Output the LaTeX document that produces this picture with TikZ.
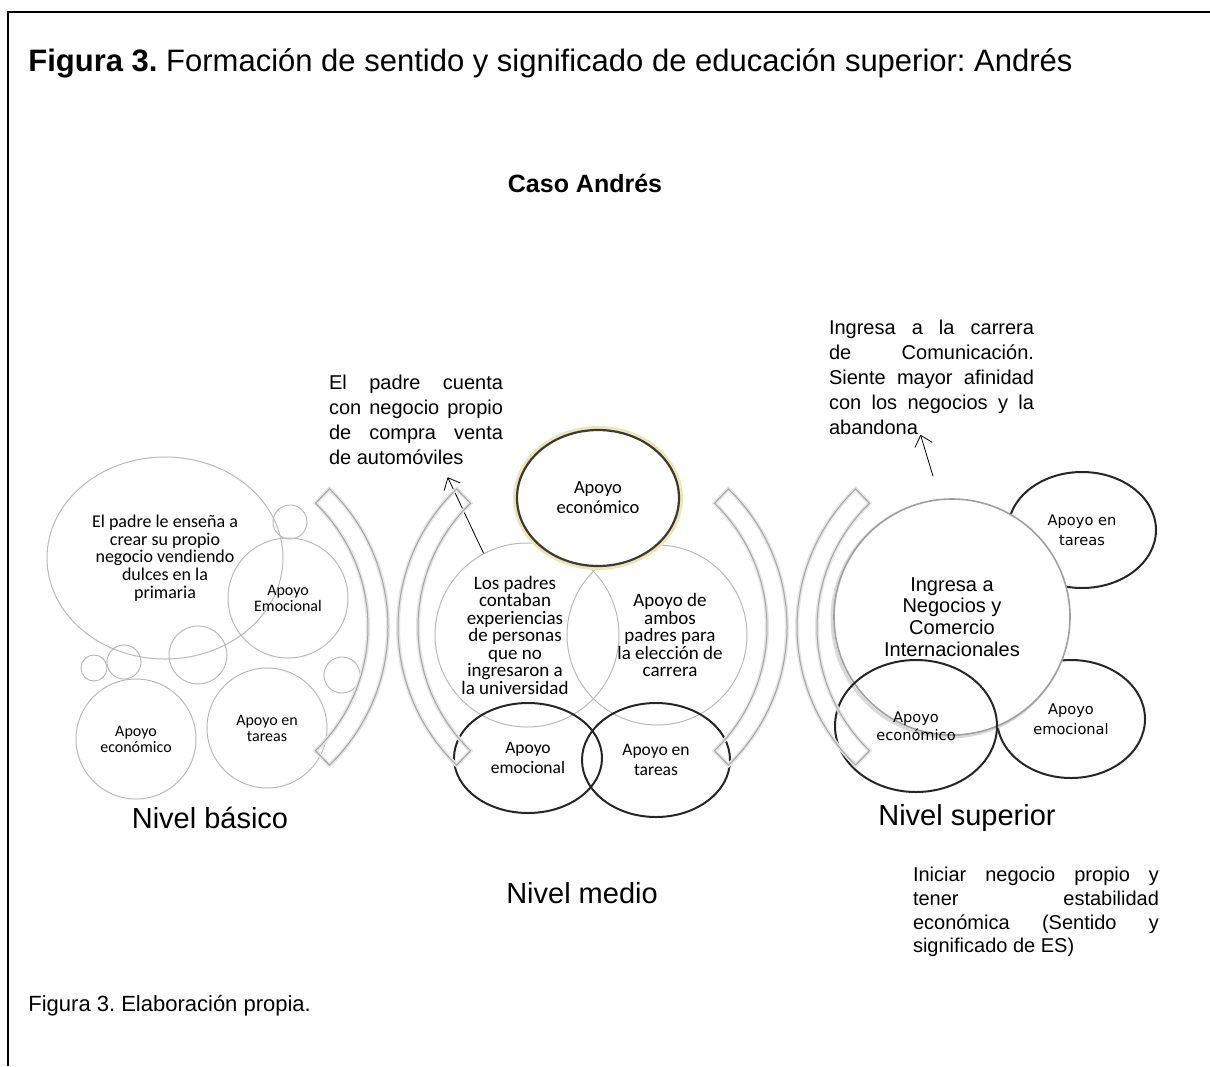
\documentclass[tikz,border=0pt]{standalone}
\usepackage{fontspec}
\setmainfont{Liberation Sans}
\newfontfamily\calib{Carlito}
\newfontfamily\verd{DejaVu Sans}
\usetikzlibrary{shapes.geometric,arrows.meta}
\frenchspacing

\begin{document}
\begin{tikzpicture}[x=0.5pt,y=-0.5pt,every node/.style={inner sep=0pt},
    ring/.style={draw=gray!55,line width=0.5pt},
    oval/.style={draw=black!85,ellipse,line width=1pt},
    glow/.style={draw=black!75!olive,ellipse,fill=white,line width=1.1pt,
      preaction={draw=olive!20,line width=4pt}},
    band/.style={draw=gray!70,line width=0.5pt,preaction={draw=gray!20,line width=2pt}},
    cal/.style 2 args={font=\calib\fontsize{#1}{#2}\selectfont,align=center},
    verd/.style={font=\verd\fontsize{7.3}{10}\selectfont,align=center},
    callout/.style={font=\fontsize{10}{12.5}\selectfont,align=left},
    nivel/.style={font=\fontsize{14.5}{17}\selectfont},
    tip/.style={-{Straight Barb[length=5pt,width=9pt]}}]
  \useasboundingbox (0,0) rectangle (1210,1066);
  \draw[line width=1pt] (8,1066) -- (8,12) -- (1210,12);

  \node[anchor=west,font=\fontsize{15.5}{18}\selectfont] (titulo) at (28,63)
    {\textbf{Figura 3.} Formación de sentido y significado de educación superior: Andrés};
  \node[font=\bfseries\fontsize{12.5}{15}\selectfont] (caso) at (585,183) {Caso Andrés};

  % nivel basico
  \node[ring,ellipse,minimum width=118pt,minimum height=101pt,cal={9}{8.85}] (ensena) at (165,558)
    {El padre le enseña a\\crear su propio\\negocio vendiendo\\dulces en la\\primaria};
  \foreach \nm/\cx/\cy/\d in {s1/290/522/17, s2/198/655/29, s3/94/668/13, s4/124/662/17, s5/342/675/18}
    \node[ring,circle,minimum size=\d pt] (\nm) at (\cx,\cy) {};
  \node[ring,circle,minimum size=60pt,cal={8}{8}] (emoB) at (288,598) {Apoyo\\Emocional};
  \node[ring,circle,minimum size=60pt,cal={8}{8}] (ecoB) at (136,739) {Apoyo\\económico};
  \node[ring,circle,minimum size=60pt,cal={8}{8}] (tarB) at (267,728) {Apoyo en\\tareas};

  % nivel medio
  \node[ring,circle,minimum size=92pt] (padres) at (527,635) {};
  \node[ring,circle,minimum size=90pt] (ambos) at (657,635) {};
  \node[cal={9.5}{8.75}] (padresTxt) at (515,635)
    {Los padres\\contaban\\experiencias\\de personas\\que no\\ingresaron a\\la universidad};
  \node[cal={9.5}{8.75}] (ambosTxt) at (670,635)
    {Apoyo de\\ambos\\padres para\\la elección de\\carrera};
  \node[glow,minimum width=81pt,minimum height=68pt,cal={9.25}{10}] (ecoM) at (598,498) {Apoyo\\económico};
  \node[oval,minimum width=74pt,minimum height=55pt,cal={8.75}{10}] (emoM) at (528,758) {Apoyo\\emocional};
  \node[oval,minimum width=74pt,minimum height=57pt,cal={8.75}{10}] (tarM) at (656,760) {Apoyo en\\tareas};
  \node[callout] (cuentaTxt) at (416,420)
    {\makebox[87pt][s]{El padre cuenta}\\
     \makebox[87pt][s]{con negocio propio}\\
     \makebox[87pt][s]{de compra venta}\\
     de automóviles};
  \draw[tip] (padres.118) -- ([yshift=-6pt]cuentaTxt.-55);

  % nivel superior
  \node[oval,minimum width=74pt,minimum height=58pt,verd] (tarS) at (1082,530) {Apoyo en\\tareas};
  \node[oval,minimum width=74pt,minimum height=59pt,verd] (emoS) at (1071,719) {Apoyo\\emocional};
  \node[circle,draw=gray!75,fill=white,line width=0.8pt,minimum size=118pt,
    preaction={draw=gray!30,line width=1.5pt,transform canvas={shift={(-1pt,-1pt)}}},
    font=\fontsize{10}{10.85}\selectfont,align=center] (ingresa) at (952,617)
    {Ingresa a\\Negocios y\\Comercio\\Internacionales};
  \node[oval,minimum width=81pt,minimum height=66pt,font=\verd\fontsize{7.3}{9}\selectfont,align=center] (ecoS) at (916,726) {Apoyo\\económico};
  \node[callout] (carreraTxt) at (931.5,377)
    {\makebox[102.5pt][s]{Ingresa a la carrera}\\
     \makebox[102.5pt][s]{de Comunicación.}\\
     \makebox[102.5pt][s]{Siente mayor afinidad}\\
     \makebox[102.5pt][s]{con los negocios y la}\\
     abandona};
  \draw[tip] ([shift={(-9.5pt,11pt)}]ingresa.north) -- ([xshift=-5.5pt]carreraTxt.south);
  \node[font=\fontsize{10}{11.85}\selectfont,align=left] (sentido) at (1036,912)
    {\makebox[123pt][s]{Iniciar negocio propio y}\\
     \makebox[123pt][s]{tener estabilidad}\\
     \makebox[123pt][s]{económica (Sentido y}\\
     significado de ES)};

  % arcos
  \foreach \cx/\a in {196/0, 590/180, 595/0, 989/180}
    \draw[band] (\cx,627) ++(\a-46:192) arc[start angle=\a-46, end angle=\a+46, radius=192]
      -- ++(\a+226:20) arc[start angle=\a+46, end angle=\a-46, radius=172] -- cycle;

  \node[nivel] (basico) at (210,818) {Nivel básico};
  \node[nivel] (medio) at (582,893) {Nivel medio};
  \node[nivel] (superior) at (967,818) {Nivel superior};
  \node[anchor=west,font=\fontsize{11}{13}\selectfont] (fuente) at (28,1006) {Figura 3. Elaboración propia.};
\end{tikzpicture}
\end{document}
